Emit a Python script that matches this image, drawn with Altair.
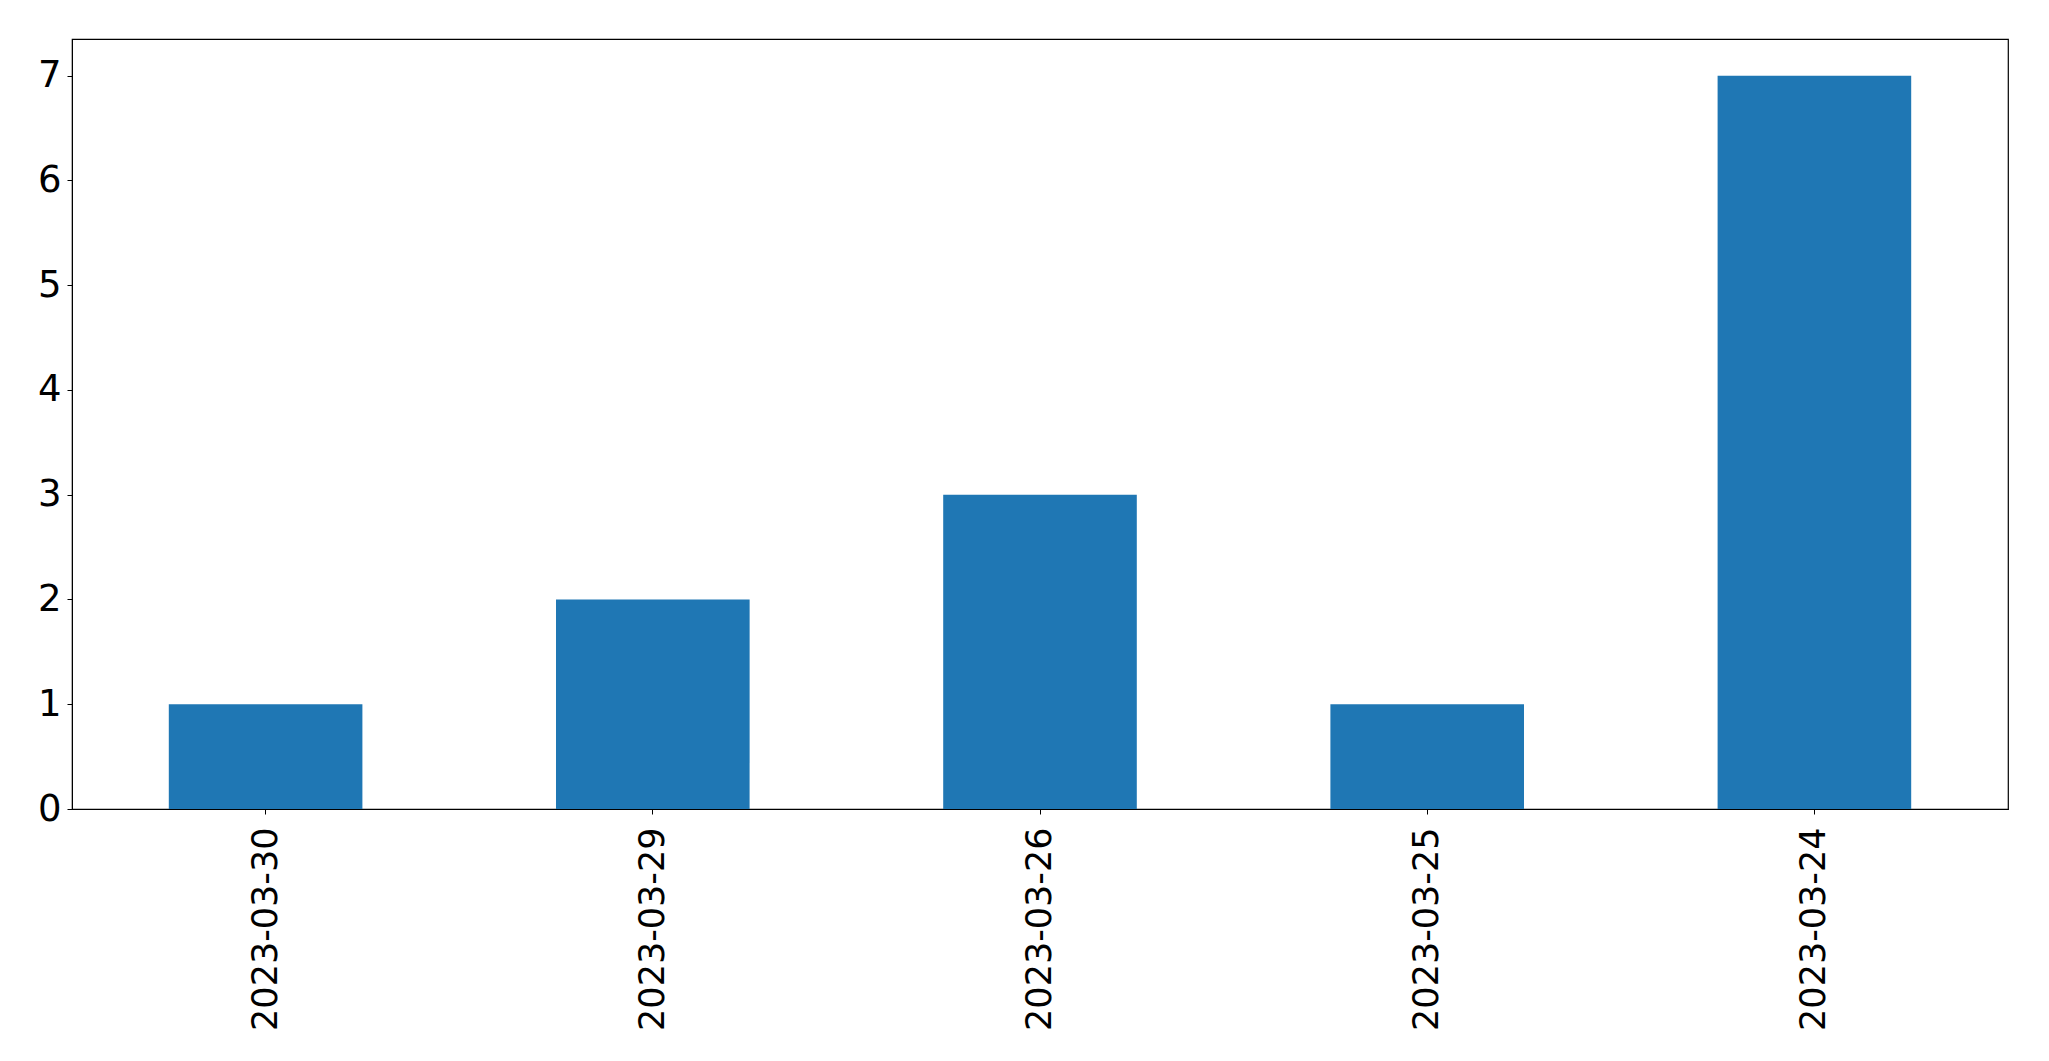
import altair as alt
import pandas as pd

dates = ["2023-03-30", "2023-03-29", "2023-03-26", "2023-03-25", "2023-03-24"]
counts = [1, 2, 3, 1, 7]

df = pd.DataFrame({"date": dates, "count": counts})

font = "DejaVu Sans"

chart = alt.Chart(df).mark_bar(color="#1f77b4").encode(
    x=alt.X("date:N", sort=dates, title=None,
            scale=alt.Scale(paddingInner=0.5, paddingOuter=0.25),
            axis=alt.Axis(labelAngle=270, labelAlign="right", labelBaseline="middle",
                          labelFont=font, labelFontSize=35, labelColor="black", labelLimit=0,
                          tickColor="black", tickSize=5, labelPadding=13,
                          domainColor="black", grid=False)),
    y=alt.Y("count:Q", title=None,
            scale=alt.Scale(domain=[0, 7.35], nice=False, zero=True),
            axis=alt.Axis(values=[0, 1, 2, 3, 4, 5, 6, 7], format="d",
                          labelFont=font, labelFontSize=37, labelColor="black",
                          tickColor="black", tickSize=5, labelPadding=6,
                          domainColor="black", grid=False)),
).properties(
    width=1936, height=770,
    autosize=alt.AutoSizeParams(type="none"),
    padding={"left": 64, "top": 31, "right": 30, "bottom": 240},
).configure_view(stroke="black", strokeWidth=1.2)

chart.save("out.html", embed_options={"renderer": "svg", "actions": False})
